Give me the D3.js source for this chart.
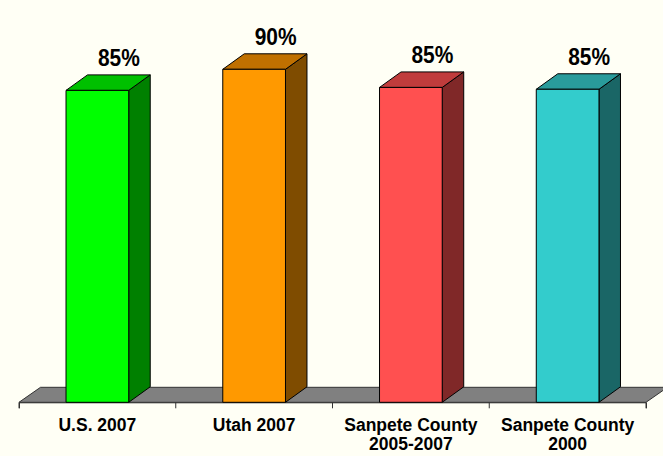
<!DOCTYPE html>
<html><head><meta charset="utf-8">
<script src="https://cdn.jsdelivr.net/npm/d3@7"></script>
<style>html,body{margin:0;padding:0;background:#fffff5;}svg{display:block;}</style>
</head><body>
<svg id="chart" width="663" height="456"></svg>
<script>
const categories = [["U.S. 2007"], ["Utah 2007"], ["Sanpete County", "2005-2007"], ["Sanpete County", "2000"]];
const values = [84.3, 90.0, 85.1, 84.6];
const valueLabels = ["85%", "90%", "85%", "85%"];
const frontColors = ["#00ff00", "#ff9900", "#ff5050", "#33cccc"];
const topColors = ["#00c000", "#c07000", "#c03c3c", "#299b9b"];
const sideColors = ["#008000", "#7f4c00", "#802828", "#1a6666"];

const svg = d3.select("#chart");
const dx = 21.5, dy = 15.5;
const ids = d3.range(categories.length);
const x = d3.scaleBand().domain(ids).range([19, 646]).paddingInner(0).paddingOuter(0);
const y = d3.scaleLinear().domain([0, 100]).range([402.3, 32.3]);
const bw = x.bandwidth() * 0.4;

// floor
const x0 = x.range()[0], x1 = x.range()[1], yb = y(0);
svg.append("path")
  .attr("d", `M${x0},${yb} L${x1},${yb} L${x1+dx},${yb-dy+0.5} L${x0+dx},${yb-dy+0.5} Z`)
  .attr("fill", "#808080").attr("stroke", "#333").attr("stroke-width", 1);

// axis
const axis = d3.axisBottom(x).tickSize(6).tickFormat("");
const ag = svg.append("g").attr("transform", `translate(0,${yb})`).call(axis);
ag.select(".domain").attr("stroke", "#333");
ag.selectAll(".tick").remove();
ag.selectAll(".edge").data(d3.range(categories.length + 1)).enter().append("line")
  .attr("x1", i => x0 + i * x.step()).attr("x2", i => x0 + i * x.step())
  .attr("y1", 0).attr("y2", 6).attr("stroke", "#333");

// bars
const g = svg.append("g");
ids.forEach(i => {
  const bx = x(i) + (x.bandwidth() - bw) / 2;
  const top = y(values[i]);
  const bg = g.append("g").attr("stroke", "#000").attr("stroke-width", 1).attr("stroke-linejoin", "round");
  bg.append("path")
    .attr("d", `M${bx+bw},${top} L${bx+bw+dx},${top-dy} L${bx+bw+dx},${yb-dy} L${bx+bw},${yb} Z`)
    .attr("fill", sideColors[i]);
  bg.append("path")
    .attr("d", `M${bx},${top} L${bx+dx},${top-dy} L${bx+bw+dx},${top-dy} L${bx+bw},${top} Z`)
    .attr("fill", topColors[i]);
  bg.append("rect").attr("x", bx).attr("y", top).attr("width", bw).attr("height", yb - top)
    .attr("fill", frontColors[i]);
  // value label
  svg.append("text")
    .attr("transform", `translate(${bx + bw / 2 + dx},${top - dy - 9}) scale(0.91,1)`)
    .attr("text-anchor", "middle")
    .attr("font-family", "Liberation Sans, Arial, sans-serif")
    .attr("font-weight", "bold")
    .attr("font-size", 23)
    .attr("fill", "#000")
    .text(valueLabels[i]);
  // category label
  const cx = x(i) + x.bandwidth() / 2;
  const t = svg.append("text")
    .attr("text-anchor", "middle")
    .attr("font-family", "Liberation Sans, Arial, sans-serif")
    .attr("font-weight", "bold")
    .attr("font-size", 17.5)
    .attr("fill", "#000");
  categories[i].forEach((line, j) => {
    t.append("tspan").attr("x", cx).attr("y", 431 + j * 18.5).text(line);
  });
});
</script>
</body></html>
